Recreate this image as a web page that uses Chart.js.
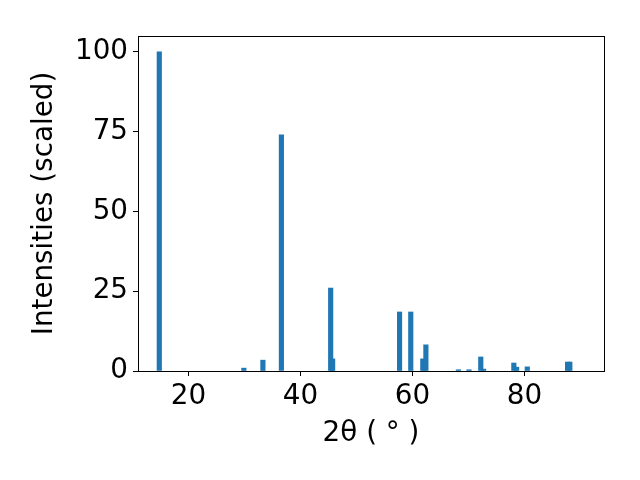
<!DOCTYPE html>
<html>
<head>
<meta charset="utf-8">
<script src="https://cdn.jsdelivr.net/npm/chart.js@4.4.0/dist/chart.umd.min.js"></script>
<style>
  html, body { margin: 0; padding: 0; background: #fff; }
  #wrap { width: 640px; height: 480px; }
</style>
</head>
<body>
<div id="wrap"><canvas id="xrdChart" width="640" height="480"></canvas></div>
<script>
// peak positions (2theta, degrees) and scaled intensities
const twoTheta = [14.8, 29.9, 33.3, 36.6, 45.4, 45.75, 57.7, 59.7, 61.85, 62.4, 68.2, 70.1, 72.2, 72.7, 78.1, 78.6, 80.5, 87.7, 88.1];
const intensity = [100, 0.9, 3.4, 74, 26, 3.8, 18.5, 18.5, 3.8, 8.2, 0.4, 0.4, 4.4, 0.6, 2.5, 1.2, 1.3, 2.8, 2.8];
const xTickStep = 20;
const yTickStep = 25;

const points = twoTheta.map((t, i) => ({ x: t, y: intensity[i] }));

// box around plot area like matplotlib spines
const frame = {
    id: 'frame',
    afterDraw(chart) {
        const a = chart.chartArea;
        const ctx = chart.ctx;
        ctx.save();
        ctx.strokeStyle = '#000';
        ctx.lineWidth = 1;
        ctx.strokeRect(a.left + 0.5, a.top + 0.5, a.right - a.left, a.bottom - a.top);
        ctx.restore();
    }
};

const font = { family: 'DejaVu Sans', size: 27.8 };

new Chart(document.getElementById('xrdChart'), {
    type: 'bar',
    data: {
        datasets: [{
            data: points,
            backgroundColor: '#1f77b4',
            barThickness: 4.5,
            grouped: false
        }]
    },
    options: {
        responsive: false,
        animation: false,
        layout: { padding: { top: 36, right: 36, left: 0, bottom: 0 } },
        plugins: { legend: { display: false }, tooltip: { enabled: false } },
        scales: {
            x: {
                type: 'linear',
                offset: false,
                min: 11.0,
                max: 94.2,
                afterFit(s) { s.height = 109; },
                grid: { drawOnChartArea: false, tickLength: 5, tickColor: '#000', color: '#000', offset: false },
                border: { color: '#000' },
                ticks: { color: '#000', font: font, padding: 4, maxRotation: 0, stepSize: xTickStep, includeBounds: false, autoSkip: false },
                title: { display: true, text: '2θ ( ° )', color: '#000', font: font, padding: { top: 0, bottom: 30 } }
            },
            y: {
                min: 0,
                max: 105,
                afterFit(s) { s.width = 138; },
                grid: { drawOnChartArea: false, tickLength: 5, tickColor: '#000', color: '#000' },
                border: { color: '#000' },
                ticks: { color: '#000', font: font, padding: 5, stepSize: yTickStep, includeBounds: false },
                title: { display: true, text: 'Intensities (scaled)', color: '#000', font: font, padding: { top: 28, bottom: 0 } }
            }
        }
    },
    plugins: [frame]
});
</script>
</body>
</html>
